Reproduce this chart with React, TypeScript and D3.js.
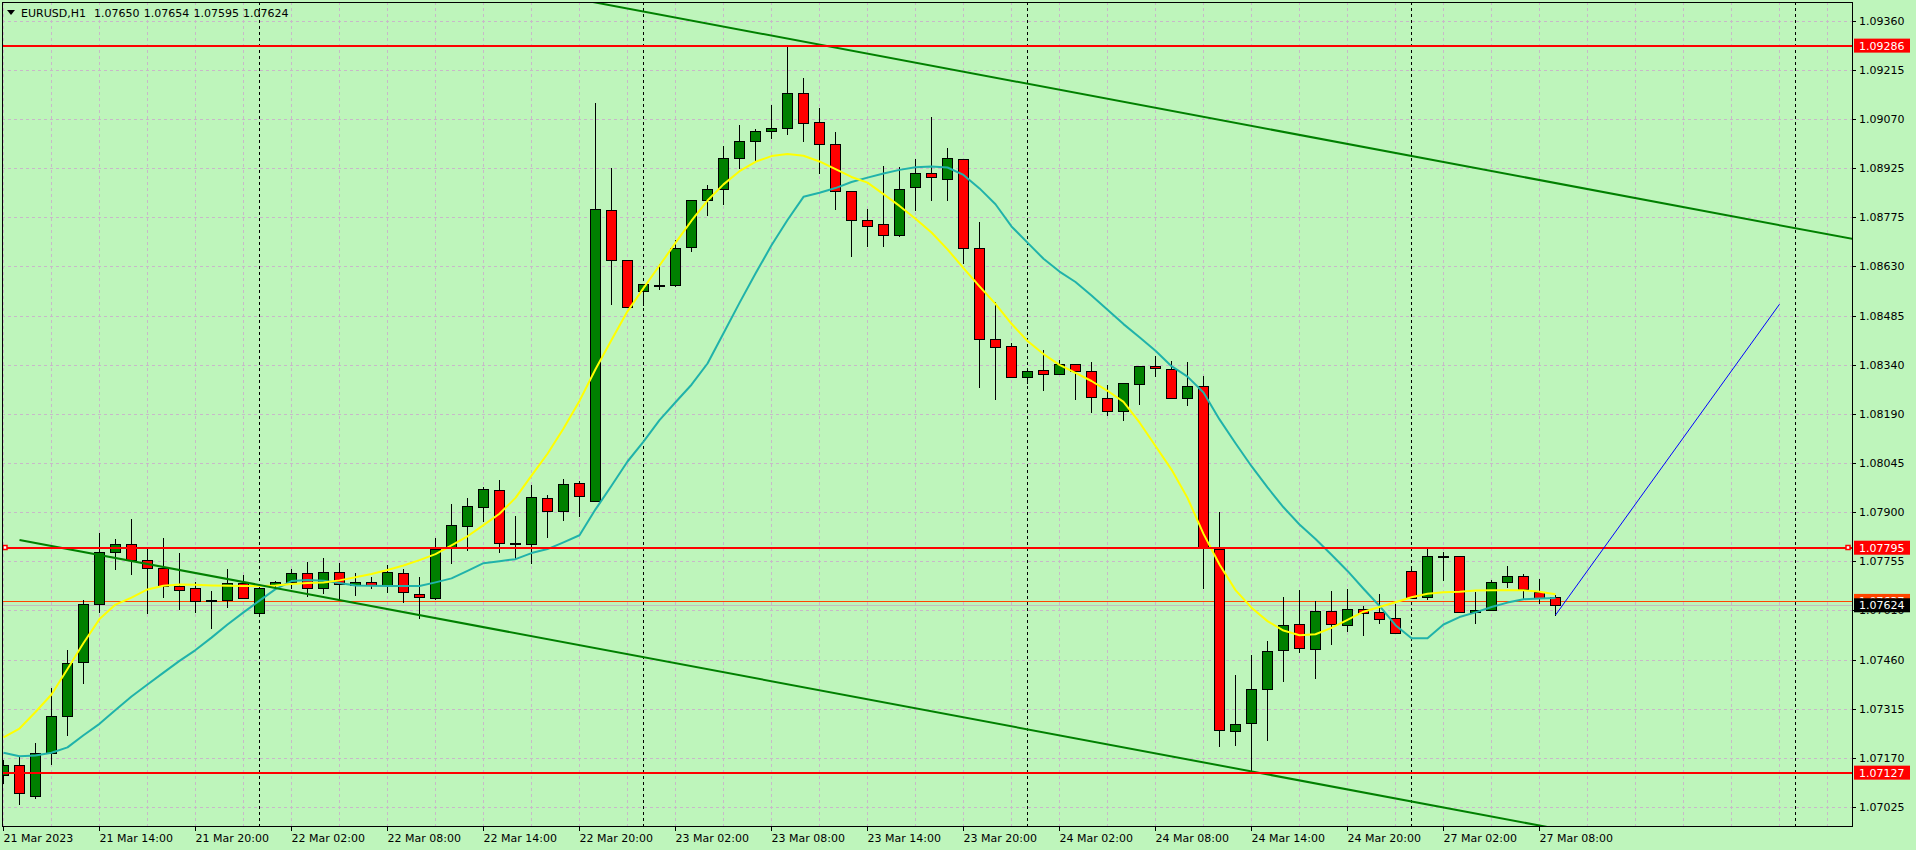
import React from 'react';
import * as d3 from 'd3';

const W = 1916;
const H = 850;

const symbolTitle = 'EURUSD,H1';
const lastBarOHLC = ['1.07650', '1.07654', '1.07595', '1.07624'];

const opens = [
  1.07119, 1.07151, 1.07059, 1.07184, 1.07294, 1.07457, 1.07627, 1.07781, 1.07805, 1.07759,
  1.07736, 1.0768, 1.07674, 1.07641, 1.07641, 1.07689, 1.07602, 1.07684, 1.07692, 1.07719,
  1.07674, 1.07722, 1.07684, 1.07692, 1.07683, 1.07719, 1.07659, 1.07647, 1.07798, 1.0786,
  1.07916, 1.07965, 1.07809, 1.07807, 1.07944, 1.07905, 1.07986, 1.07935, 1.08797, 1.08648,
  1.08556, 1.08576, 1.08574, 1.08687, 1.08829, 1.08859, 1.08951, 1.09002, 1.09031, 1.0904,
  1.09144, 1.09058, 1.08993, 1.08853, 1.08767, 1.08755, 1.08725, 1.08867, 1.08907, 1.0889,
  1.08948, 1.08684, 1.08414, 1.08393, 1.08301, 1.08324, 1.08311, 1.08342, 1.08321, 1.08241,
  1.08201, 1.08282, 1.08336, 1.08327, 1.08241, 1.08274, 1.07791, 1.07252, 1.07273, 1.07374,
  1.0749, 1.07567, 1.07493, 1.07606, 1.07564, 1.07612, 1.07603, 1.07585, 1.07725, 1.0765,
  1.07769, 1.07769, 1.07603, 1.07609, 1.07692, 1.0771, 1.07662, 1.0765,
];
const highs = [
  1.07164, 1.07174, 1.07214, 1.07379, 1.07491, 1.07639, 1.07839, 1.0782, 1.0788, 1.0779,
  1.07823, 1.07778, 1.07694, 1.07666, 1.07733, 1.07713, 1.07681, 1.07696, 1.07733, 1.07754,
  1.07763, 1.07749, 1.0772, 1.07707, 1.07745, 1.07733, 1.07707, 1.07823, 1.07924, 1.07942,
  1.07976, 1.07996, 1.07889, 1.07981, 1.07951, 1.07999, 1.07993, 1.09117, 1.08922, 1.08648,
  1.08577, 1.08637, 1.08708, 1.08829, 1.08872, 1.08988, 1.0905, 1.09037, 1.09109, 1.09286,
  1.0919, 1.091, 1.09028, 1.08853, 1.088, 1.08928, 1.08925, 1.08949, 1.09073, 1.08981,
  1.08948, 1.08761, 1.08525, 1.08402, 1.08321, 1.08382, 1.08352, 1.08342, 1.08346, 1.08278,
  1.08283, 1.08336, 1.08365, 1.08349, 1.08345, 1.08305, 1.07902, 1.07417, 1.07476, 1.07517,
  1.07648, 1.07669, 1.07636, 1.07666, 1.07672, 1.07621, 1.07659, 1.07627, 1.07738, 1.07795,
  1.07781, 1.07769, 1.07662, 1.07698, 1.07742, 1.07716, 1.07701, 1.07654,
];
const lows = [
  1.07097, 1.07033, 1.07052, 1.07152, 1.07238, 1.07394, 1.07605, 1.07731, 1.07717, 1.07602,
  1.07649, 1.07613, 1.07603, 1.07557, 1.07619, 1.07647, 1.07599, 1.07671, 1.07675, 1.07652,
  1.07661, 1.07644, 1.07654, 1.07674, 1.07663, 1.07634, 1.07585, 1.07642, 1.0775, 1.07788,
  1.07874, 1.07782, 1.07765, 1.0775, 1.07827, 1.07877, 1.07889, 1.07933, 1.0852, 1.08509,
  1.08517, 1.08562, 1.08572, 1.08677, 1.08784, 1.08816, 1.08924, 1.08946, 1.09012, 1.09025,
  1.09003, 1.08907, 1.08801, 1.08662, 1.08691, 1.08691, 1.08721, 1.08798, 1.08827, 1.08827,
  1.08639, 1.08273, 1.08236, 1.08301, 1.08283, 1.08264, 1.08311, 1.08236, 1.08199, 1.0819,
  1.08174, 1.08221, 1.08305, 1.08241, 1.08218, 1.07674, 1.07207, 1.0721, 1.07127, 1.07224,
  1.074, 1.07486, 1.07409, 1.07508, 1.07548, 1.07535, 1.0757, 1.07543, 1.07647, 1.07644,
  1.07699, 1.07603, 1.0757, 1.07609, 1.07677, 1.07647, 1.0763, 1.07595,
];
const closes = [
  1.07151, 1.07068, 1.07184, 1.07294, 1.07454, 1.07627, 1.07781, 1.07805, 1.07759, 1.07736,
  1.07681, 1.07668, 1.07638, 1.07641, 1.07689, 1.07647, 1.07674, 1.07692, 1.07719, 1.07674,
  1.07722, 1.07686, 1.07692, 1.07684, 1.07722, 1.07662, 1.07649, 1.07791, 1.07861, 1.07918,
  1.07969, 1.07809, 1.07809, 1.07947, 1.07905, 1.07983, 1.07949, 1.088, 1.08648, 1.08509,
  1.08577, 1.08576, 1.08684, 1.08829, 1.08859, 1.08951, 1.09002, 1.09031, 1.0904, 1.09144,
  1.09055, 1.08993, 1.08853, 1.08767, 1.08749, 1.08725, 1.08859, 1.08907, 1.08895, 1.08951,
  1.08684, 1.08414, 1.08392, 1.08301, 1.08321, 1.08311, 1.08342, 1.08321, 1.08244, 1.082,
  1.08283, 1.08336, 1.08329, 1.08241, 1.08274, 1.07795, 1.07253, 1.0727, 1.07374, 1.07487,
  1.07564, 1.07496, 1.07606, 1.07567, 1.07612, 1.076, 1.07582, 1.07543, 1.07647, 1.07769,
  1.07769, 1.07603, 1.07609, 1.07692, 1.0771, 1.07671, 1.07647, 1.07624,
];

const maFast = [
  1.07232, 1.07258, 1.07307, 1.07359, 1.07435, 1.07512, 1.07583, 1.07626, 1.07647, 1.07671,
  1.07682, 1.07686, 1.07685, 1.07683, 1.07682, 1.07681, 1.07681, 1.07683, 1.07687, 1.0769,
  1.07692, 1.07698, 1.07707, 1.07717, 1.07729, 1.07742, 1.07758, 1.07776, 1.07802, 1.07829,
  1.07862, 1.07896, 1.07943, 1.08009, 1.08074, 1.08149, 1.08231, 1.08325, 1.08412, 1.08497,
  1.08566, 1.08633, 1.087, 1.08766, 1.08826, 1.08874, 1.08913, 1.08941, 1.08958, 1.08964,
  1.08959, 1.08942, 1.08919, 1.08896, 1.08879, 1.08845, 1.0881, 1.08772, 1.08731, 1.08681,
  1.08625, 1.08571, 1.08519, 1.0846, 1.08409, 1.0837, 1.08338, 1.08314, 1.0829, 1.08261,
  1.08228, 1.08167, 1.08097, 1.08027, 1.07943, 1.07836, 1.07745, 1.07669, 1.07617, 1.07577,
  1.07549, 1.07535, 1.07538, 1.07557, 1.07581, 1.07605, 1.07619, 1.07633, 1.07648, 1.07658,
  1.07663, 1.07664, 1.07668, 1.07669, 1.07669, 1.07669, 1.07664, 1.07657,
];
const maSlow = [
  1.07186, 1.07176, 1.07178, 1.07186, 1.07202, 1.07238, 1.07272, 1.07313, 1.07353, 1.07389,
  1.07424, 1.07459, 1.07491, 1.07528, 1.07567, 1.07603, 1.07638, 1.07672, 1.07696, 1.07699,
  1.07697, 1.0769, 1.07683, 1.07682, 1.07681, 1.07681, 1.07681, 1.07692, 1.07704, 1.07726,
  1.07749, 1.07755, 1.07761, 1.07779, 1.07791, 1.07811, 1.07832, 1.07909, 1.07979, 1.08051,
  1.0811, 1.08174, 1.08227, 1.08279, 1.08342, 1.08432, 1.08522, 1.08609, 1.08693, 1.08768,
  1.08837, 1.08849, 1.08863, 1.08881, 1.08894, 1.08906, 1.08917, 1.08925, 1.08927, 1.08924,
  1.08902, 1.08862, 1.08815, 1.08749, 1.08701, 1.08653, 1.08615, 1.08584, 1.08544, 1.08502,
  1.08459, 1.0842, 1.0838, 1.08334, 1.08303, 1.08256, 1.08176, 1.08105, 1.08037, 1.07974,
  1.07915, 1.07864, 1.07821, 1.07774, 1.07726, 1.07673, 1.07622, 1.07565, 1.07526, 1.07526,
  1.07567, 1.07589, 1.07603, 1.07619, 1.07632, 1.07642, 1.07644, 1.07646,
];

const priceTickLabels = [
  '1.09360', '1.09215', '1.09070', '1.08925', '1.08775', '1.08630', '1.08485', '1.08340', '1.08190',
  '1.08045', '1.07900', '1.07755', '1.07610', '1.07460', '1.07315', '1.07170', '1.07025',
];
const timeLabels = [
  '21 Mar 2023', '21 Mar 14:00', '21 Mar 20:00', '22 Mar 02:00', '22 Mar 08:00', '22 Mar 14:00',
  '22 Mar 20:00', '23 Mar 02:00', '23 Mar 08:00', '23 Mar 14:00', '23 Mar 20:00', '24 Mar 02:00',
  '24 Mar 08:00', '24 Mar 14:00', '24 Mar 20:00', '27 Mar 02:00', '27 Mar 08:00',
];
const timeLabelStepBars = 6;
const gridStepBars = 3;
const daySeparatorBars = [16, 40, 64, 88, 112];

const redLevels = [1.09286, 1.07795, 1.07127];
const selectedLevel = 1.07795;
const askPrice = 1.07637;
const bidPrice = 1.07624;

const channelUpper = [[37, 1.09414], [115, 1.08717]];
const channelLower = [[1, 1.07818], [96, 1.0697]];
const channelStartBar = 1;
const blueTrend = [[97, 1.07595], [111, 1.08518]];

const BG = 'rgb(190,245,187)';
const GRID = 'rgb(200,184,200)';
const FONT = 'DejaVu Sans';

export default function App() {
  const left = 2, top = 2, right = 1852, bottom = 826;
  const x = d3.scaleLinear().domain([0, 1]).range([3.5, 19.5]);
  const y = d3.scaleLinear().domain([1.07025, 1.0936]).range([807, 20.7]);
  const lastBarVisible = Math.floor(x.invert(right));

  const n = priceTickLabels.length;
  const yTop = y(+priceTickLabels[0]);
  const yBot = y(+priceTickLabels[n - 1]);
  const gridYs = priceTickLabels.map((_, k) => yTop + (k * (yBot - yTop)) / (n - 1));

  const gridBars = d3.range(0, lastBarVisible + 1, gridStepBars);

  const lineGen = d3
    .line<number>()
    .x((_, i) => x(i))
    .y((d) => y(d));

  const ray = (pts: number[][], startBar: number) => {
    const [[b1, p1], [b2, p2]] = pts;
    const slope = (p2 - p1) / (b2 - b1);
    const endBar = lastBarVisible + 2;
    return {
      x1: x(startBar),
      y1: y(p1 + slope * (startBar - b1)),
      x2: x(endBar),
      y2: y(p1 + slope * (endBar - b1)),
    };
  };
  const up = ray(channelUpper, channelStartBar);
  const lo = ray(channelLower, channelStartBar);

  const crisp = (v: number) => Math.round(v) + 0.5;

  return (
    <div style={{ width: W, height: H }}>
      <style>{`html,body{margin:0;padding:0;background:${BG};}`}</style>
      <svg width={W} height={H} style={{ display: 'block' }} fontFamily={FONT} fontSize={11}>
        <defs>
          <clipPath id="plotClip">
            <rect x={left} y={top} width={right - left} height={bottom - top} />
          </clipPath>
        </defs>
        <rect x={0} y={0} width={W} height={H} fill={BG} />

        {/* grid */}
        <g stroke={GRID} strokeWidth={1} strokeDasharray="3,3">
          {gridYs.map((gy, k) => (
            <line key={'gh' + k} x1={left} x2={right} y1={crisp(gy)} y2={crisp(gy)} />
          ))}
          {gridBars.map((b) => (
            <line key={'gv' + b} x1={x(b)} x2={x(b)} y1={top} y2={bottom} />
          ))}
        </g>

        {/* day separators */}
        <g stroke="#000" strokeWidth={1} strokeDasharray="3,3">
          {daySeparatorBars.map((b) => (
            <line key={'sep' + b} x1={x(b)} x2={x(b)} y1={top} y2={bottom} />
          ))}
        </g>

        <g clipPath="url(#plotClip)">
          {/* bid / ask lines */}
          <line x1={left} x2={right} y1={crisp(y(askPrice))} y2={crisp(y(askPrice))} stroke="#FF4500" strokeWidth={1} />
          <line x1={left} x2={right} y1={crisp(y(bidPrice))} y2={crisp(y(bidPrice))} stroke="#C0C0C0" strokeWidth={1} />

          {/* candles */}
          {opens.map((o, i) => {
            const c = closes[i];
            const cx = x(i);
            const yH = Math.round(y(highs[i]));
            const yL = Math.round(y(lows[i]));
            const yT = Math.round(y(Math.max(o, c)));
            const yB = Math.round(y(Math.min(o, c)));
            const fill = c > o ? '#008000' : c < o ? '#FF0000' : '#000000';
            const h = Math.max(yB - yT, 1);
            return (
              <g key={'c' + i}>
                <line x1={cx} x2={cx} y1={yH} y2={yL + 1} stroke="#000" strokeWidth={1} />
                <rect x={cx - 5} y={yT + 0.5} width={10} height={h} fill={fill} stroke="#000" strokeWidth={1} />
              </g>
            );
          })}

          {/* moving averages */}
          <path d={lineGen(maSlow) || ''} fill="none" stroke="#20B2AA" strokeWidth={2} strokeLinejoin="round" />
          <path d={lineGen(maFast) || ''} fill="none" stroke="#FFFF00" strokeWidth={2} strokeLinejoin="round" />

          {/* channel */}
          <line {...up} stroke="#008000" strokeWidth={2} />
          <line {...lo} stroke="#008000" strokeWidth={2} />

          {/* horizontal levels */}
          {redLevels.map((p) => (
            <line key={'lvl' + p} x1={left} x2={right} y1={Math.round(y(p))} y2={Math.round(y(p))} stroke="#FF0000" strokeWidth={2} />
          ))}
          <rect x={3} y={Math.round(y(selectedLevel)) - 2.5} width={4} height={4} fill="#FFFFFF" stroke="#FF0000" strokeWidth={1.5} />
          <rect x={right - 6} y={Math.round(y(selectedLevel)) - 2.5} width={4} height={4} fill="#FFFFFF" stroke="#FF0000" strokeWidth={1.5} />

          {/* blue trend line */}
          <line
            x1={x(blueTrend[0][0])}
            y1={y(blueTrend[0][1])}
            x2={x(blueTrend[1][0])}
            y2={y(blueTrend[1][1])}
            stroke="#0000FF"
            strokeWidth={1}
          />
        </g>

        {/* frame */}
        <g stroke="#000" strokeWidth={1} fill="none">
          <line x1={left + 0.5} x2={left + 0.5} y1={top} y2={bottom + 0.5} />
          <line x1={right + 0.5} x2={right + 0.5} y1={top} y2={bottom + 0.5} />
          <line x1={left} x2={right + 1} y1={bottom + 0.5} y2={bottom + 0.5} />
          <line x1={left} x2={right + 1} y1={top + 0.5} y2={top + 0.5} />
        </g>

        {/* price axis */}
        <g>
          {gridYs.map((gy, k) => (
            <g key={'pt' + k}>
              <line x1={right + 1} x2={right + 4} y1={crisp(gy)} y2={crisp(gy)} stroke="#000" />
              <text x={1859} y={gy + 4} fill="#000">
                {priceTickLabels[k]}
              </text>
            </g>
          ))}
          <rect x={1854} y={y(askPrice) - 7} width={56} height={14} fill="#FF4500" />
          <text x={1859} y={y(askPrice) + 4} fill="#FFFFFF">{askPrice.toFixed(5)}</text>
          <rect x={1854} y={y(bidPrice) - 7} width={56} height={14} fill="#000000" />
          <text x={1859} y={y(bidPrice) + 4} fill="#FFFFFF">{bidPrice.toFixed(5)}</text>
          {redLevels.map((p) => (
            <g key={'rl' + p}>
              <rect x={1854} y={y(p) - 7} width={56} height={14} fill="#FF0000" />
              <text x={1859} y={y(p) + 4} fill="#FFFFFF">{p.toFixed(5)}</text>
            </g>
          ))}
        </g>

        {/* time axis */}
        <g>
          {timeLabels.map((t, k) => {
            const tx = x(k * timeLabelStepBars);
            return (
              <g key={'tl' + k}>
                <line x1={tx} x2={tx} y1={bottom + 1} y2={bottom + 5} stroke="#000" />
                <text x={tx} y={842} fill="#000">
                  {t}
                </text>
              </g>
            );
          })}
        </g>

        {/* header */}
        <polygon points="7,10 15,10 11,15" fill="#000" />
        <text x={21} y={17} fill="#000">
          {symbolTitle}
        </text>
        {lastBarOHLC.map((v, k) => (
          <text key={'h' + k} x={94 + k * 49.7} y={17} fill="#000">
            {v}
          </text>
        ))}
      </svg>
    </div>
  );
}
